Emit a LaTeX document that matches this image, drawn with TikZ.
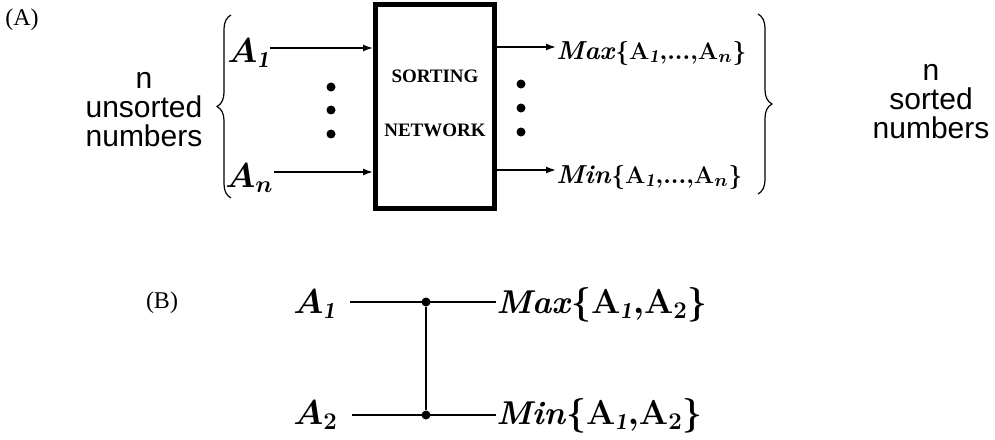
\documentclass[tikz,border=0pt]{standalone}
\usepackage{amsmath,amssymb}
\usepackage{fontspec}
\newfontfamily\notefont{Liberation Sans}
\newfontfamily\tagfont{Liberation Serif}
\usepackage{tikz}
\usetikzlibrary{arrows.meta,positioning,decorations.pathreplacing}

\begin{document}
\begin{tikzpicture}[x=0.5pt,y=-0.5pt,
  every node/.style={inner sep=0pt},
  tagtext/.style={font=\tagfont\fontsize{12}{14}\selectfont},
  notetext/.style={font=\notefont\fontsize{15}{14.5}\selectfont,align=center},
  boxtext/.style={font=\tagfont\bfseries\fontsize{9.5}{11}\selectfont},
  symA/.style={font=\fontsize{16.5}{18}\selectfont\boldmath},
  setA/.style={font=\fontsize{13}{15}\selectfont\boldmath},
  symB/.style={font=\fontsize{16.5}{18}\selectfont\boldmath},
  wire/.style={line width=0.8pt},
  feed/.style={wire,-{Latex[length=5pt,width=3.5pt]}},
  curly/.style={decorate,decoration={brace,amplitude=7pt},line width=0.6pt},
  spot/.style={circle,fill,minimum size=4.5pt}]

\useasboundingbox (0,0) rectangle (995,439);

% (A) the network as a black box
\node[tagtext] (tagA) at (22,20) {(A)};
\node[notetext] (inlbl) at (144,110) {n\\unsorted\\numbers};

\node[symA,anchor=base west] (a1) at (227,62) {$A_{\mathit{1}}$};
\node[symA,anchor=base west] (an) at (225,187) {$A_n$};

\node[draw,line width=2.5pt,minimum width=59.5pt,minimum height=102pt] (net) at (435,106.5) {};
\node[boxtext] (sorting) at (435,76) {SORTING};
\node[boxtext] (network) at (435,130) {NETWORK};

\coordinate (inhi) at (0,48);
\coordinate (inlo) at (0,172);
\draw[feed] (a1.east |- inhi) -- (net.west |- inhi);
\draw[feed] (an.east |- inlo) -- (net.west |- inlo);

\node[spot] (ld1) at (331,87) {};
\node[spot] (ld2) at (331,110) {};
\node[spot] (ld3) at (331,134) {};
\node[spot] (rd1) at (521,84) {};
\node[spot] (rd2) at (521,108) {};
\node[spot] (rd3) at (521,132) {};

\node[setA,anchor=base west] (outmax) at (556,59)
  {\textbf{\textit{Max}}$\{\mathbf{A}_{\mathit{1}}{,}{\ldotp}{\ldotp}{\ldotp}{,}\mathbf{A}_n\}$};
\node[setA,anchor=base west] (outmin) at (556,183)
  {\textbf{\textit{Min}}$\{\mathbf{A}_{\mathit{1}}{,}{\ldotp}{\ldotp}{\ldotp}{,}\mathbf{A}_n\}$};

\coordinate (outhi) at (0,47);
\coordinate (outlo) at (0,170);
\draw[feed] (net.east |- outhi) -- (outmax.west |- outhi);
\draw[feed] (net.east |- outlo) -- (outmin.west |- outlo);

\coordinate (lbrtop) at (231,15);
\coordinate (lbrbot) at (231,198);
\draw[curly] (lbrbot) -- (lbrtop);
\coordinate (rbrtop) at (758,14);
\coordinate (rbrbot) at (758,194);
\draw[curly] (rbrtop) -- (rbrbot);

\node[notetext] (outlbl) at (931,102) {n\\sorted\\numbers};

% (B) a single comparator
\node[tagtext] (tagB) at (162,303) {(B)};
\node[symB,anchor=base west] (b1) at (293,313) {$A_{\mathit{1}}$};
\node[symB,anchor=base west] (b2) at (293,424) {$A_2$};

\coordinate (hi) at (426,302);
\coordinate (lo) at (426,415);
\node[spot] (cmphi) at (hi) {};
\node[spot] (cmplo) at (lo) {};

\node[symB,anchor=base west] (bmax) at (496,313)
  {\textbf{\textit{Max}}$\{\mathbf{A}_{\mathit{1}}{,}\mathbf{A}_2\}$};
\node[symB,anchor=base west] (bmin) at (496,424)
  {\textbf{\textit{Min}}$\{\mathbf{A}_{\mathit{1}}{,}\mathbf{A}_2\}$};

\draw[wire] (b1.east |- hi) ++(14,0) -- (bmax.west |- hi);
\draw[wire] (b2.east |- lo) ++(14,0) -- (bmin.west |- lo);
\draw[wire] (cmphi) -- (cmplo);
\end{tikzpicture}
\end{document}
